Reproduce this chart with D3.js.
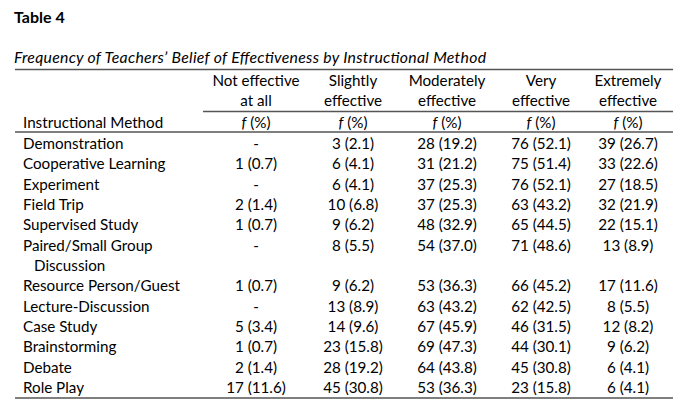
<!DOCTYPE html>
<html><head><meta charset="utf-8">
<script src="https://cdn.jsdelivr.net/npm/d3@7"></script>
<style>
html,body{margin:0;padding:0;background:#fff;}
svg{display:block;font-family:Lato,"Open Sans",sans-serif;}
</style></head><body>
<svg id="c" width="680" height="411"></svg>
<script>
const tableLabel = "Table 4";
const tableTitle = "Frequency of Teachers’ Belief of Effectiveness by Instructional Method";
const stubHeader = "Instructional Method";
const columns = ["Not effective|at all", "Slightly|effective", "Moderately|effective", "Very|effective", "Extremely|effective"];
const methods = ["Demonstration", "Cooperative Learning", "Experiment", "Field Trip", "Supervised Study",
  "Paired/Small Group|Discussion", "Resource Person/Guest", "Lecture-Discussion", "Case Study",
  "Brainstorming", "Debate", "Role Play"];
const notEffectiveN   = [null, 1, null, 2, 1, null, 1, null, 5, 1, 2, 17];
const notEffectiveP   = [null, 0.7, null, 1.4, 0.7, null, 0.7, null, 3.4, 0.7, 1.4, 11.6];
const slightlyN       = [3, 6, 6, 10, 9, 8, 9, 13, 14, 23, 28, 45];
const slightlyP       = [2.1, 4.1, 4.1, 6.8, 6.2, 5.5, 6.2, 8.9, 9.6, 15.8, 19.2, 30.8];
const moderatelyN     = [28, 31, 37, 37, 48, 54, 53, 63, 67, 69, 64, 53];
const moderatelyP     = [19.2, 21.2, 25.3, 25.3, 32.9, 37.0, 36.3, 43.2, 45.9, 47.3, 43.8, 36.3];
const veryN           = [76, 75, 76, 63, 65, 71, 66, 62, 46, 44, 45, 23];
const veryP           = [52.1, 51.4, 52.1, 43.2, 44.5, 48.6, 45.2, 42.5, 31.5, 30.1, 30.8, 15.8];
const extremelyN      = [39, 33, 27, 32, 22, 13, 17, 8, 12, 9, 6, 6];
const extremelyP      = [26.7, 22.6, 18.5, 21.9, 15.1, 8.9, 11.6, 5.5, 8.2, 6.2, 4.1, 4.1];

const colN = [notEffectiveN, slightlyN, moderatelyN, veryN, extremelyN];
const colP = [notEffectiveP, slightlyP, moderatelyP, veryP, extremelyP];

const svg = d3.select("#c");
const FS = 15.2;
const ink = "#000";
const ruleColor = "#555";
const left = 15, right = 673;

// column center scale
const x = d3.scaleOrdinal().domain(d3.range(columns.length)).range([256, 353, 447, 541, 628]);

// line-index -> baseline scale for body rows
let lineIdx = [];
let li = 0;
methods.forEach((m, i) => { lineIdx.push(li); li += m.split("|").length; });
const y = d3.scaleLinear().domain([0, 12]).range([149, 393]);

svg.append("text").attr("x", 14).attr("y", 23).attr("font-size", 16).attr("font-weight", "bold")
  .attr("fill", ink).text(tableLabel);
svg.append("text").attr("x", 14).attr("y", 63).attr("font-size", FS + 0.6).attr("font-style", "italic")
  .attr("textLength", 472).attr("lengthAdjust", "spacing")
  .attr("fill", ink).text(tableTitle);

function rule(x1, x2, yy) {
  svg.append("line").attr("x1", x1).attr("x2", x2).attr("y1", yy).attr("y2", yy)
    .attr("stroke", ruleColor).attr("stroke-width", 1.4);
}
rule(left, right, 69.5);
rule(203, right, 111.5);
rule(left, right, 132);
rule(left, right, 398);

// headers
columns.forEach((c, j) => {
  const parts = c.split("|");
  parts.forEach((p, k) => {
    svg.append("text").attr("x", x(j)).attr("y", 86 + k * 20).attr("text-anchor", "middle")
      .attr("font-size", FS).attr("fill", ink).text(p);
  });
  const t = svg.append("text").attr("x", x(j)).attr("y", 128).attr("text-anchor", "middle")
    .attr("font-size", FS).attr("fill", ink);
  t.append("tspan").attr("font-style", "italic").text("f");
  t.append("tspan").text(" (%)");
});
svg.append("text").attr("x", 23).attr("y", 128).attr("font-size", FS).attr("fill", ink).text(stubHeader);

// body
methods.forEach((m, i) => {
  const parts = m.split("|");
  parts.forEach((p, k) => {
    svg.append("text").attr("x", k === 0 ? 23 : 34).attr("y", y(lineIdx[i] + k))
      .attr("font-size", FS).attr("fill", ink).text(p);
  });
  colN.forEach((arr, j) => {
    const n = arr[i], p = colP[j][i];
    svg.append("text").attr("x", x(j)).attr("y", y(lineIdx[i])).attr("text-anchor", "middle")
      .attr("font-size", FS).attr("fill", ink)
      .text(n == null ? "-" : `${n} (${p.toFixed(1)})`);
  });
});
</script>
</body></html>
